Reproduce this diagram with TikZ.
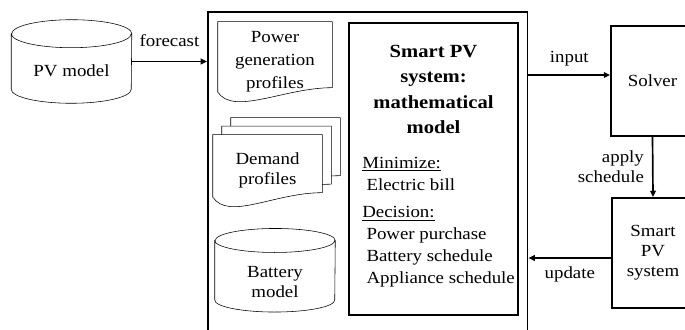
\documentclass[tikz,border=0pt]{standalone}
\usepackage{fontspec}
\setmainfont{Liberation Serif}[FakeStretch=1.11]
\usetikzlibrary{arrows.meta, backgrounds}

% outline of a document sheet with a wavy lower edge, drawn round node #2, shifted by #1
\def\docshape#1#2{([shift={(#1)}]#2.north west) -- ([shift={(#1)}]#2.north east)
    -- ([shift={(#1)}, yshift=0.34cm]#2.south east)
    .. controls +(-1.2, 0) and +(0.4, -0.6) .. ([shift={(#1)}, yshift=0.23cm]#2.south west) -- cycle}

% outline of a cylinder round node #2 (the node is its front face), ellipse height #1
\def\cylshape#1#2{([yshift=#1]#2.north west) -- ([yshift=#1]#2.south west)
    arc[start angle=180, end angle=360, x radius=1.5cm, y radius=#1] -- ([yshift=#1]#2.north east)
    arc[start angle=0, end angle=180, x radius=1.5cm, y radius=#1] -- cycle
    ([yshift=#1]#2.north west) arc[start angle=180, end angle=360, x radius=1.5cm, y radius=#1]}

\begin{document}
\begin{tikzpicture}[
    txt/.style  = {font=\fontsize{12.1}{14.2}\selectfont, align=center},
    cyl/.style  = {txt, inner sep=0pt, minimum width=3cm},
    box/.style  = {txt, draw, line width=1.3pt},
    doc/.style  = {txt, inner sep=0pt},
    lbl/.style  = {font=\fontsize{12.1}{14.2}\selectfont, inner sep=0pt, text depth=0pt},
    arr/.style  = {-{Triangle[length=4.5pt, width=4pt]}, line width=1.2pt},
]
    \useasboundingbox (0, 0) rectangle (17.125, 8.225);
    \clip (0, 0) rectangle (17.125, 8.225);

    % PV model on the left
    \node[cyl, minimum height=1.375cm, text depth=7pt] (pv) at (1.7875, 6.3375) {PV model};

    % the big frame, open at the bottom of the picture
    \node[draw, line width=1.3pt, minimum width=7.99cm, minimum height=8.5cm] (frame) at (9.194, 3.675) {};

    % inputs of the model
    \node[doc, font=\fontsize{12.1}{16.4}\selectfont, minimum width=2.85cm, minimum height=1.975cm]
        (gen) at (6.875, 6.6875) {Power\\generation\\profiles};
    \node[doc, minimum width=2.725cm, minimum height=1.775cm]
        (demand) at (6.6875, 3.9625) {Demand\\profiles};
    \node[cyl, minimum height=1.475cm] (battery) at (6.875, 1.16875) {Battery\\model};

    \begin{scope}[on background layer, line width=1.3pt]
        \draw \cylshape{0.35cm}{pv};
        \draw \cylshape{0.3cm}{battery};
        \filldraw[fill=white] \docshape{0, 0}{gen};
        \filldraw[fill=white] \docshape{0.45, 0.425}{demand};   % back sheet
        \filldraw[fill=white] \docshape{0.225, 0.2125}{demand}; % middle sheet
        \filldraw[fill=white] \docshape{0, 0}{demand};          % front sheet
    \end{scope}

    % mathematical model
    \node[box, minimum width=4.225cm, minimum height=7.3cm] (model) at (10.8375, 4.0) {};
    \node[txt, inner sep=0pt, anchor=north, font=\bfseries\fontsize{13.2}{17.8}\selectfont]
        (title) at (10.8375, 7.09) {Smart PV\\system:\\mathematical\\model};
    \node[txt, inner sep=0pt, anchor=north west, align=left, font=\fontsize{12.1}{15.6}\selectfont]
        (goal) at (9.05, 4.31) {\underline{Minimize:}\\
                                \hspace*{3pt}Electric bill\\[4pt]
                                \underline{Decision:}\\
                                \hspace*{3pt}Power purchase\\
                                \hspace*{3pt}Battery schedule\\
                                \hspace*{3pt}Appliance schedule};

    % solver and the real system on the right
    \node[box, minimum width=2.075cm, minimum height=2.75cm] (solver) at (16.3125, 6.2) {Solver};
    \node[box, minimum width=2.05cm, minimum height=2.75cm] (pvsys) at (16.325, 1.9) {Smart\\PV\\system};

    \coordinate (fc)  at ([yshift=0.35cm]pv.east);
    \coordinate (in)  at ([yshift=0.15cm]solver.west);
    \coordinate (out) at ([yshift=-0.125cm]pvsys.west);

    \draw[arr] (fc) -- (fc -| frame.west) node[lbl, midway, above=0.35cm] {forecast};
    \draw[arr] (frame.east |- in) -- (in) node[lbl, midway, above=0.3cm] {input};
    \draw[arr] (solver.south) -- (pvsys.north)
        node[lbl, midway, left=0.2cm, align=right] {apply\\schedule};
    \draw[arr] (out) -- (frame.east |- out) node[lbl, midway, below=0.2cm] {update};
\end{tikzpicture}
\end{document}
